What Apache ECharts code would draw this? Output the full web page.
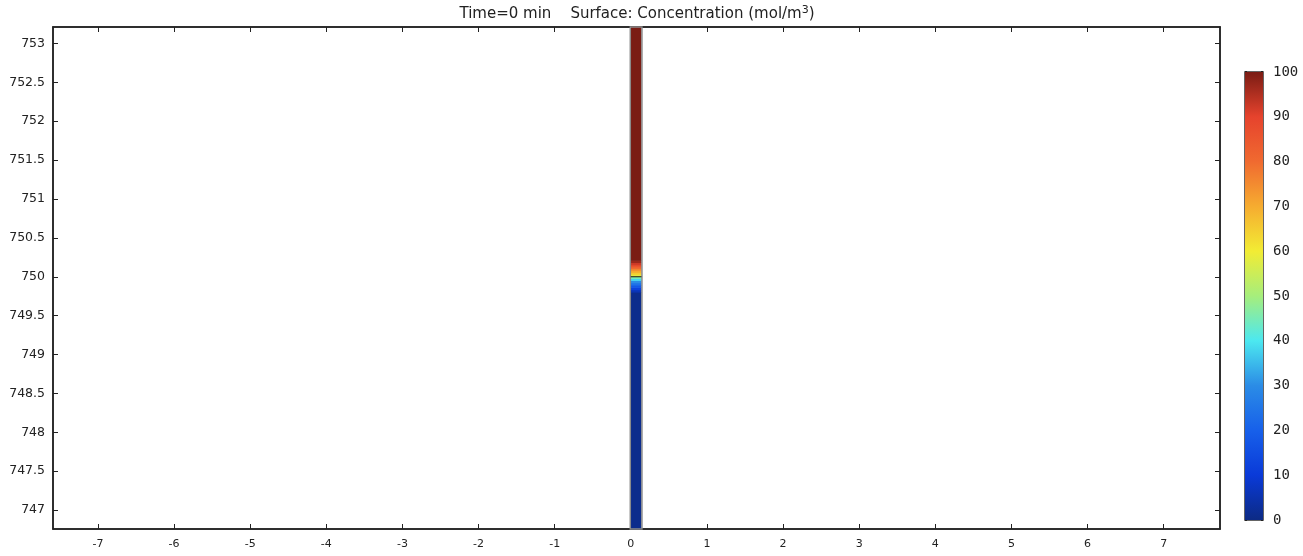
<!DOCTYPE html>
<html>
<head>
<meta charset="utf-8">
<title>Concentration</title>
<script src="https://cdn.jsdelivr.net/npm/echarts@6/dist/echarts.min.js"></script>
<style>
  html, body { margin: 0; padding: 0; background: #fff; }
  #chart { width: 1303px; height: 556px; }
</style>
</head>
<body>
<div id="chart"></div>
<script>
// Tick positions on the axes
const xTicks = [-7, -6, -5, -4, -3, -2, -1, 0, 1, 2, 3, 4, 5, 6, 7];
const yTicks = [747, 747.5, 748, 748.5, 749, 749.5, 750, 750.5, 751, 751.5, 752, 752.5, 753];
const colorbarTicks = [0, 10, 20, 30, 40, 50, 60, 70, 80, 90, 100];

// Domain view limits
const xRange = [-7.59, 7.74];
const yRange = [746.756, 753.212];

// Thin vertical domain (x extent) and its concentration profile along y
const columnX = [0, 0.14];
const profileEdges = [746.756, 749.80, 749.83, 749.86, 749.89, 749.92, 749.95, 749.975, 750.0,
                      750.025, 750.05, 750.075, 750.10, 750.125, 750.15, 750.18, 750.21, 753.212];
const profileConc = [1, 6, 12, 18, 24, 30, 38, 45, 58, 64, 69, 74, 80, 86, 92, 97, 100];
const interfaceY = 750;

// Rainbow colour table, 0 -> 100 mol/m^3
const rainbow = ['#0c2a84', '#0a3ad8', '#1760ea', '#2b8ce6', '#4ce8f0', '#a6ee7c',
                 '#f2ec34', '#f6ac30', '#f06a30', '#e6432d', '#7a1c14'];

const cells = [];
for (let i = 0; i < profileConc.length; i++) {
  cells.push([columnX[0], columnX[1], profileEdges[i], profileEdges[i + 1], profileConc[i]]);
}

const chart = echarts.init(document.getElementById('chart'), null, { renderer: 'canvas' });

const tickStyle = { color: '#222', width: 1 };
const frameLine = { show: true, onZero: false, lineStyle: { color: '#222', width: 1.5 } };
const labelFont = { color: '#222', fontFamily: 'DejaVu Sans', fontSize: 11 };

const gradientStops = rainbow.map((c, i) => ({ offset: 1 - i / (rainbow.length - 1), color: c }));

chart.setOption({
  animation: false,
  title: {
    text: 'Time=0 min    Surface: Concentration (mol/m{sup|3})',
    left: 632,
    top: 0,
    textAlign: 'center',
    textStyle: {
      fontFamily: 'DejaVu Sans', fontSize: 15, fontWeight: 'normal', color: '#222',
      rich: { sup: { fontFamily: 'DejaVu Sans', fontSize: 11, color: '#222', verticalAlign: 'top', padding: [0, 0, 7, 0] } }
    }
  },
  grid: [
    { left: 53, top: 27, width: 1167, height: 502, show: true, borderColor: '#222', borderWidth: 1.5, backgroundColor: '#fff' },
    { left: 1245, top: 72, width: 18, height: 448, show: true, borderColor: '#333', borderWidth: 1.5 }
  ],
  xAxis: [
    {
      type: 'value', gridIndex: 0, min: xRange[0], max: xRange[1], position: 'bottom',
      axisLine: frameLine,
      axisTick: { show: true, inside: true, length: 5, customValues: xTicks, lineStyle: tickStyle },
      axisLabel: Object.assign({ show: true, margin: 10, customValues: xTicks }, labelFont),
      splitLine: { show: false }
    },
    {
      type: 'value', gridIndex: 0, min: xRange[0], max: xRange[1], position: 'top',
      axisLine: frameLine,
      axisTick: { show: true, inside: true, length: 5, customValues: xTicks, lineStyle: tickStyle },
      axisLabel: { show: false },
      splitLine: { show: false }
    },
    {
      type: 'value', gridIndex: 1, min: 0, max: 1, show: false
    }
  ],
  yAxis: [
    {
      type: 'value', gridIndex: 0, min: yRange[0], max: yRange[1], position: 'left',
      axisLine: frameLine,
      axisTick: { show: true, inside: true, length: 5, customValues: yTicks, lineStyle: tickStyle },
      axisLabel: Object.assign({ show: true, margin: 8, customValues: yTicks }, labelFont, { fontSize: 12.5 }),
      splitLine: { show: false }
    },
    {
      type: 'value', gridIndex: 0, min: yRange[0], max: yRange[1], position: 'right',
      axisLine: frameLine,
      axisTick: { show: true, inside: true, length: 5, customValues: yTicks, lineStyle: tickStyle },
      axisLabel: { show: false },
      splitLine: { show: false }
    },
    {
      type: 'value', gridIndex: 1, min: 0, max: 100, position: 'right',
      axisLine: { show: false, onZero: false },
      axisTick: { show: true, inside: true, length: 2, customValues: colorbarTicks, lineStyle: { color: '#222', width: 2 } },
      axisLabel: { show: true, margin: 10, customValues: colorbarTicks, color: '#222', fontFamily: 'DejaVu Sans Mono', fontSize: 14 },
      splitLine: { show: false }
    },
    {
      type: 'value', gridIndex: 1, min: 0, max: 100, position: 'left',
      axisLine: { show: false, onZero: false },
      axisTick: { show: true, inside: true, length: 2, customValues: colorbarTicks, lineStyle: { color: '#222', width: 2 } },
      axisLabel: { show: false },
      splitLine: { show: false }
    }
  ],
  visualMap: {
    show: false,
    type: 'continuous',
    seriesIndex: 0,
    dimension: 4,
    min: 0,
    max: 100,
    inRange: { color: rainbow }
  },
  series: [
    {
      name: 'Concentration',
      type: 'custom',
      xAxisIndex: 0,
      yAxisIndex: 0,
      data: cells,
      renderItem: function (params, api) {
        const p0 = api.coord([api.value(0), api.value(2)]);
        const p1 = api.coord([api.value(1), api.value(3)]);
        return {
          type: 'rect',
          shape: { x: p0[0], y: p1[1] - 0.3, width: p1[0] - p0[0], height: p0[1] - p1[1] + 0.6 },
          style: { fill: api.visual('color') }
        };
      },
      z: 2
    },
    {
      name: 'Boundary',
      type: 'custom',
      xAxisIndex: 0,
      yAxisIndex: 0,
      data: [[columnX[0], columnX[1], yRange[0], yRange[1]]],
      renderItem: function (params, api) {
        const p0 = api.coord([api.value(0), api.value(2)]);
        const p1 = api.coord([api.value(1), api.value(3)]);
        return {
          type: 'rect',
          shape: { x: p0[0] - 0.5, y: p1[1], width: p1[0] - p0[0] + 1, height: p0[1] - p1[1] },
          style: { fill: 'none', stroke: '#8a8a8a', lineWidth: 1.5 }
        };
      },
      z: 3
    },
    {
      name: 'Interface',
      type: 'line',
      xAxisIndex: 0,
      yAxisIndex: 0,
      data: [[columnX[0], interfaceY], [columnX[1], interfaceY]],
      symbol: 'none',
      lineStyle: { color: '#1a1a1a', width: 1.2 },
      z: 4
    },
    {
      name: 'Colorbar',
      type: 'custom',
      xAxisIndex: 2,
      yAxisIndex: 2,
      data: [[0, 1, 0, 100]],
      renderItem: function (params, api) {
        const p0 = api.coord([api.value(0), api.value(2)]);
        const p1 = api.coord([api.value(1), api.value(3)]);
        return {
          type: 'rect',
          shape: { x: p0[0], y: p1[1], width: p1[0] - p0[0], height: p0[1] - p1[1] },
          style: {
            fill: new echarts.graphic.LinearGradient(0, 0, 0, 1, gradientStops)
          }
        };
      },
      z: 2
    }
  ]
});
</script>
</body>
</html>
